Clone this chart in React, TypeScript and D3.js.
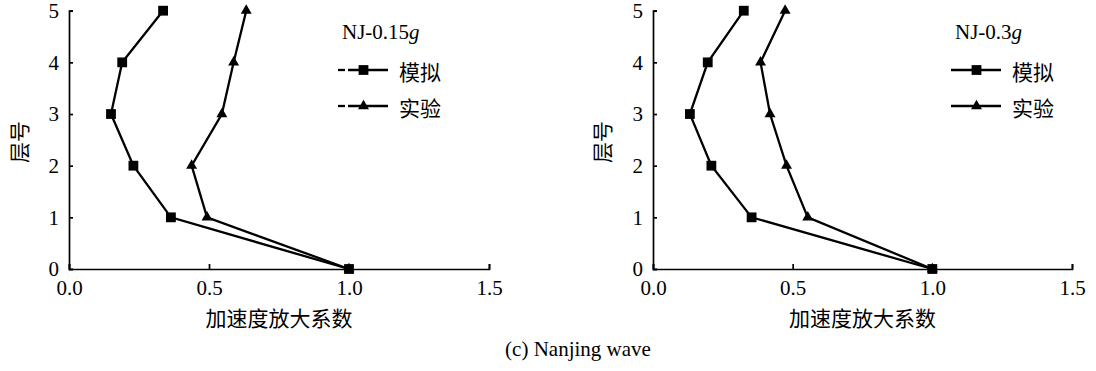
import React, { useEffect, useRef } from 'react';
import * as d3 from 'd3';

// floor numbers (层号) and acceleration amplification factors
const floors = [0, 1, 2, 3, 4, 5];
const simLeft = [1.0, 0.364, 0.23, 0.15, 0.19, 0.336];
const expLeft = [1.0, 0.493, 0.438, 0.546, 0.588, 0.633];
const simRight = [1.0, 0.353, 0.209, 0.132, 0.196, 0.325];
const expRight = [1.0, 0.554, 0.478, 0.419, 0.385, 0.473];
const xTicks = [0, 0.5, 1.0, 1.5];
const yTicks = [0, 1, 2, 3, 4, 5];
const seriesNames = ['模拟', '实验'];
const panelTitles = ['NJ-0.15', 'NJ-0.3'];

const LATIN = '"Liberation Serif", "Times New Roman", serif';
const CJK = '"Noto Sans CJK SC", "Noto Sans", sans-serif';

export default function App() {
  const ref = useRef<SVGSVGElement>(null);

  useEffect(() => {
    const svg = d3.select(ref.current);
    svg.selectAll('*').remove();

    const panels = [
      { left: 69, right: 489, ylab: 18, title: panelTitles[0], sim: simLeft, exp: expLeft, lx: 338, dashed: true },
      { left: 653, right: 1072, ylab: 601, title: panelTitles[1], sim: simRight, exp: expRight, lx: 951, dashed: false },
    ];
    const top = 10.7, bottom = 269;

    panels.forEach(p => {
      const x = d3.scaleLinear().domain([0, 1.5]).range([p.left, p.right]);
      const y = d3.scaleLinear().domain([0, 5]).range([bottom, top]);
      const g = svg.append('g');

      // axes, ticks pointing inwards
      const ax = g.append('g')
        .attr('transform', `translate(0,${bottom})`)
        .call(d3.axisBottom(x).tickValues(xTicks).tickFormat(d3.format('.1f'))
          .tickSizeInner(-5).tickSizeOuter(-5).tickPadding(11));
      const ay = g.append('g')
        .attr('transform', `translate(${p.left},0)`)
        .call(d3.axisLeft(y).tickValues(yTicks).tickFormat(d3.format('d'))
          .tickSizeInner(-4).tickSizeOuter(-4).tickPadding(10));
      [ax, ay].forEach(a => {
        a.attr('font-family', LATIN).attr('font-size', 21);
        a.selectAll('path,line').attr('stroke', '#000').attr('stroke-width', 1.7);
        a.selectAll('text').attr('fill', '#000');
      });

      const line = d3.line<number>().x(d => x(d)).y((d, i) => y(floors[i]));
      const series = [
        { vals: p.sim, sym: d3.symbolSquare, size: 96 },
        { vals: p.exp, sym: d3.symbolTriangle, size: 52 },
      ];
      series.forEach(s => {
        g.append('path').datum(s.vals)
          .attr('d', line).attr('fill', 'none')
          .attr('stroke', '#000').attr('stroke-width', 2.3);
        g.selectAll(null).data(s.vals).join('path')
          .attr('transform', (d, i) => `translate(${x(d)},${y(floors[i])})`)
          .attr('d', d3.symbol(s.sym, s.size)())
          .attr('fill', '#000');
      });

      // legend
      const title = g.append('text')
        .attr('x', p.lx + 4).attr('y', 39)
        .attr('font-family', LATIN).attr('font-size', 21).text(p.title);
      title.append('tspan').attr('font-style', 'italic').text('g');

      series.forEach((s, i) => {
        const ly = 70 + i * 36;
        if (p.dashed) {
          g.append('line').attr('x1', p.lx).attr('x2', p.lx + 7).attr('y1', ly).attr('y2', ly)
            .attr('stroke', '#000').attr('stroke-width', 2.3);
          g.append('line').attr('x1', p.lx + 10).attr('x2', p.lx + 50).attr('y1', ly).attr('y2', ly)
            .attr('stroke', '#000').attr('stroke-width', 2.3);
        } else {
          g.append('line').attr('x1', p.lx).attr('x2', p.lx + 50).attr('y1', ly).attr('y2', ly)
            .attr('stroke', '#000').attr('stroke-width', 2.3);
        }
        g.append('path')
          .attr('transform', `translate(${p.lx + 25.5},${ly})`)
          .attr('d', d3.symbol(s.sym, s.size)())
          .attr('fill', '#000');
        g.append('text')
          .attr('x', p.lx + 61).attr('y', ly + 10)
          .attr('font-family', CJK).attr('font-size', 21)
          .text(seriesNames[i]);
      });

      // axis titles
      g.append('text')
        .attr('transform', `translate(${p.ylab},142) rotate(-90)`)
        .attr('text-anchor', 'middle').attr('dominant-baseline', 'central')
        .attr('font-family', CJK).attr('font-size', 21)
        .text('层号');
      g.append('text')
        .attr('x', (p.left + p.right) / 2).attr('y', 326)
        .attr('text-anchor', 'middle')
        .attr('font-family', CJK).attr('font-size', 21)
        .text('加速度放大系数');
    });

    svg.append('text')
      .attr('x', 578).attr('y', 356)
      .attr('text-anchor', 'middle')
      .attr('font-family', LATIN).attr('font-size', 21)
      .text('(c) Nanjing wave');
  }, []);

  return (
    <div style={{ position: 'absolute', left: 0, top: 0 }}>
      <svg ref={ref} width={1096} height={371} style={{ display: 'block', background: '#fff' }} />
    </div>
  );
}
